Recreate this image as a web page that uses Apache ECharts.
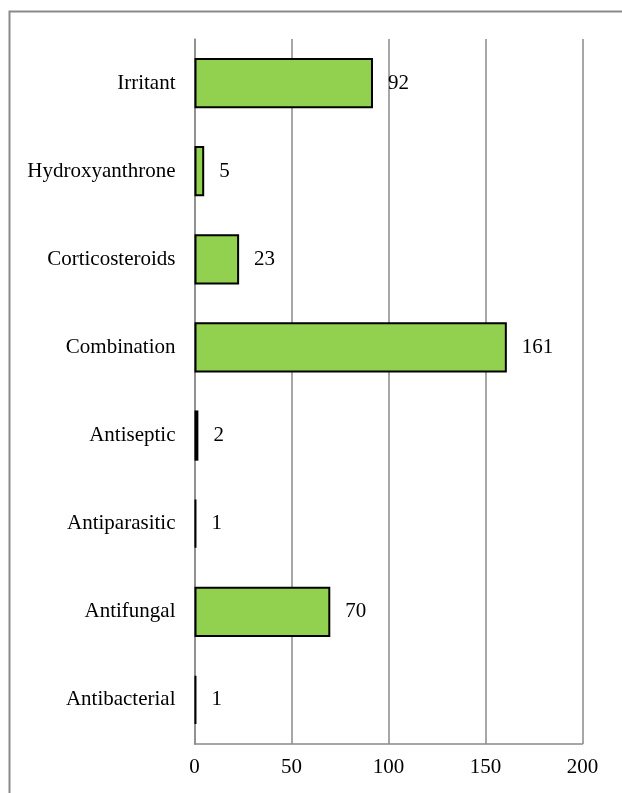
<!DOCTYPE html>
<html>
<head>
<meta charset="utf-8">
<script src="https://cdn.jsdelivr.net/npm/echarts@6/dist/echarts.min.js"></script>
<style>html,body{margin:0;padding:0;background:#fff}#c{width:622px;height:793px}</style>
</head>
<body>
<div id="c"></div>
<script>
var categories = ['Antibacterial','Antifungal','Antiparasitic','Antiseptic','Combination','Corticosteroids','Hydroxyanthrone','Irritant'];
var values = [1, 70, 1, 2, 161, 23, 5, 92];
var xTicks = [0, 50, 100, 150, 200];

var chart = echarts.init(document.getElementById('c'), null, {renderer:'canvas'});
var font = 'Liberation Serif';
chart.setOption({
  animation: false,
  backgroundColor: '#fff',
  graphic: [{
    type: 'rect', left: 7, top: 9,
    shape: {width: 700, height: 900},
    style: {fill: 'none', stroke: '#8a8a8a', lineWidth: 2},
    silent: true
  }],
  grid: {left: 194.5, right: 39.5, top: 39, bottom: 49, containLabel: false},
  xAxis: {
    type: 'value', min: xTicks[0], max: xTicks[xTicks.length-1], interval: 50,
    axisLine: {show: true, lineStyle: {color: '#8a8a8a', width: 1.5}},
    axisTick: {show: false},
    splitLine: {show: true, lineStyle: {color: '#8a8a8a', width: 1.5}},
    axisLabel: {fontFamily: font, fontSize: 21, color: '#000', margin: 13}
  },
  yAxis: {
    type: 'category', data: categories,
    axisLine: {show: true, lineStyle: {color: '#8a8a8a', width: 1.5}},
    axisTick: {show: false},
    axisLabel: {fontFamily: font, fontSize: 21, color: '#000', margin: 19}
  },
  series: [{
    type: 'bar', data: values, barCategoryGap: '43%',
    itemStyle: {color: '#92d050', borderColor: '#000', borderWidth: 2},
    label: {show: true, position: 'right', distance: 15, fontFamily: font, fontSize: 21, color: '#000'}
  }]
});
</script>
</body>
</html>
